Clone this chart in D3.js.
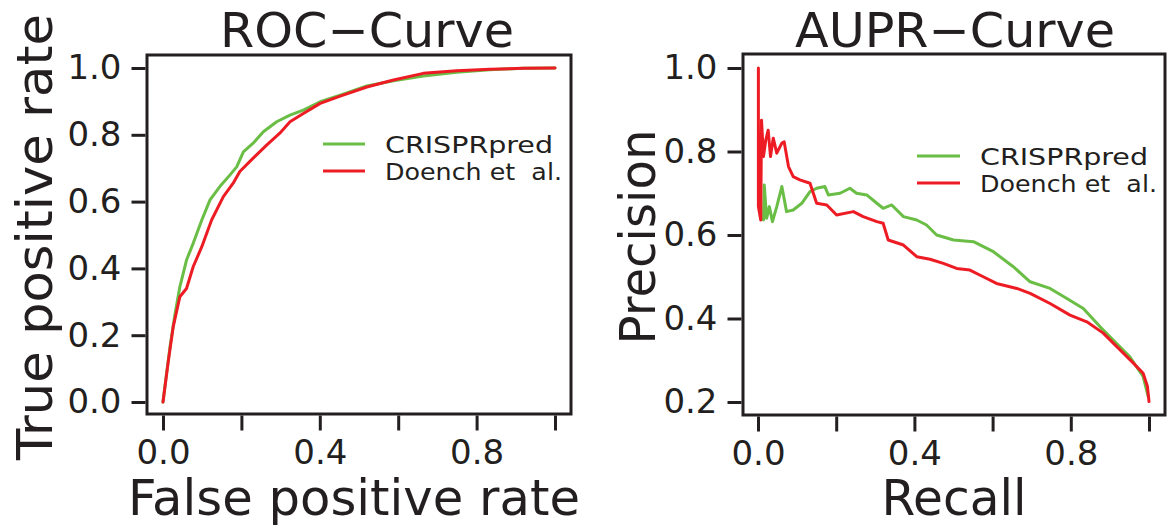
<!DOCTYPE html>
<html>
<head>
<meta charset="utf-8">
<script src="https://cdn.jsdelivr.net/npm/d3@7"></script>
<style>
  html, body { margin: 0; padding: 0; background: #ffffff; }
  svg { display: block; }
  text { font-family: "DejaVu Sans", sans-serif; fill: #231f20; }
</style>
</head>
<body>
<svg id="chart" width="1173" height="527"></svg>
<script>
// ---------------- DATA ----------------
const seriesNames = ["CRISPRpred", "Doench et  al."];
const seriesColors = ["#6abd45", "#ed1c24"];

// ROC curve: [false positive rate, true positive rate]
const rocCRISPRpred = [
  [0,0],[0.008,0.076],[0.018,0.166],[0.031,0.266],[0.043,0.345],[0.060,0.425],
  [0.077,0.475],[0.099,0.545],[0.120,0.605],[0.145,0.645],[0.171,0.680],
  [0.188,0.704],[0.205,0.749],[0.230,0.775],[0.256,0.809],[0.290,0.839],
  [0.324,0.859],[0.358,0.874],[0.401,0.899],[0.452,0.919],[0.520,0.946],
  [0.588,0.962],[0.664,0.976],[0.749,0.987],[0.834,0.995],[0.919,0.999],[1,1]
];
const rocDoench = [
  [0,0],[0.014,0.126],[0.026,0.225],[0.043,0.315],[0.060,0.340],[0.077,0.405],
  [0.099,0.465],[0.124,0.545],[0.154,0.615],[0.179,0.655],[0.196,0.690],
  [0.230,0.730],[0.265,0.770],[0.298,0.805],[0.324,0.839],[0.358,0.864],
  [0.401,0.894],[0.452,0.916],[0.520,0.943],[0.588,0.964],[0.664,0.984],
  [0.749,0.992],[0.834,0.996],[0.919,0.999],[1,1]
];

// Precision-recall curve: [recall, precision]
const prCRISPRpred = [
  [0.014,0.636],[0.016,0.720],[0.022,0.640],[0.029,0.668],[0.037,0.632],
  [0.048,0.668],[0.061,0.716],[0.073,0.656],[0.090,0.660],[0.112,0.676],
  [0.133,0.704],[0.150,0.712],[0.171,0.716],[0.180,0.696],[0.210,0.700],
  [0.235,0.712],[0.252,0.700],[0.278,0.696],[0.304,0.676],[0.320,0.664],
  [0.342,0.672],[0.372,0.644],[0.406,0.636],[0.431,0.624],[0.457,0.600],
  [0.500,0.588],[0.551,0.584],[0.602,0.560],[0.653,0.524],[0.696,0.488],
  [0.747,0.472],[0.790,0.448],[0.832,0.424],[0.875,0.380],[0.909,0.348],
  [0.951,0.308],[0.985,0.261],[0.998,0.213]
];
const prDoench = [
  [0.001,1.0],[0.001,0.668],[0.007,0.636],[0.009,0.875],[0.014,0.788],
  [0.020,0.828],[0.026,0.851],[0.032,0.788],[0.039,0.832],[0.048,0.796],
  [0.061,0.820],[0.067,0.823],[0.078,0.764],[0.090,0.740],[0.107,0.732],
  [0.133,0.724],[0.150,0.676],[0.176,0.672],[0.201,0.648],[0.244,0.656],
  [0.269,0.644],[0.304,0.632],[0.320,0.628],[0.333,0.588],[0.372,0.576],
  [0.406,0.548],[0.440,0.542],[0.474,0.532],[0.508,0.520],[0.542,0.516],
  [0.576,0.500],[0.610,0.484],[0.662,0.472],[0.696,0.460],[0.747,0.436],
  [0.798,0.408],[0.841,0.392],[0.883,0.365],[0.926,0.325],[0.960,0.293],
  [0.985,0.269],[0.996,0.237],[1.0,0.201]
];

const xTicks = [0, 0.2, 0.4, 0.6, 0.8, 1.0];
const xTickLabels = ["0.0", "", "0.4", "", "0.8", ""];
const rocYTicks = [0, 0.2, 0.4, 0.6, 0.8, 1.0];
const prYTicks = [0.2, 0.4, 0.6, 0.8, 1.0];

const panels = [
  {
    title: "ROC\u2212Curve", xLabel: "False positive rate", yLabel: "True positive rate",
    series: [rocCRISPRpred, rocDoench], yDomain: [0, 1], yTicks: rocYTicks,
    xRange: [163, 555], yRange: [402, 68], box: [147, 55, 571, 414],
    titleX: 367, titleW: 294, xLabelX: 354, xLabelW: 452, yLabelX: 52, yLabelW: 446,
    legend: { x1: 323, x2: 365, y: 144, tx: 385, dy: 27, w: [168, 177] }
  },
  {
    title: "AUPR\u2212Curve", xLabel: "Recall", yLabel: "Precision",
    series: [prCRISPRpred, prDoench], yDomain: [0.2, 1], yTicks: prYTicks,
    xRange: [758, 1149], yRange: [402, 68], box: [743, 54, 1165, 415],
    titleX: 955, titleW: 320, xLabelX: 954, xLabelW: 145, yLabelX: 655, yLabelW: 215,
    legend: { x1: 917, x2: 960, y: 156, tx: 980, dy: 27, w: [168, 177] }
  }
];

// ---------------- DRAW ----------------
const svg = d3.select("#chart");
const ink = "#231f20";

panels.forEach(p => {
  const x = d3.scaleLinear().domain([0, 1]).range(p.xRange);
  const y = d3.scaleLinear().domain(p.yDomain).range(p.yRange);
  const [bx0, by0, bx1, by1] = p.box;
  const g = svg.append("g");

  // curves
  const line = d3.line().x(d => x(d[0])).y(d => y(d[1]));
  p.series.forEach((s, i) => {
    g.append("path").datum(s)
      .attr("d", line)
      .attr("fill", "none")
      .attr("stroke", seriesColors[i])
      .attr("stroke-width", 3)
      .attr("stroke-linejoin", "round")
      .attr("stroke-linecap", "round");
  });

  // box
  g.append("rect")
    .attr("x", bx0).attr("y", by0)
    .attr("width", bx1 - bx0).attr("height", by1 - by0)
    .attr("fill", "none").attr("stroke", ink).attr("stroke-width", 3);

  // x axis
  const xAxis = d3.axisBottom(x)
    .tickValues(xTicks)
    .tickSize(15)
    .tickPadding(9)
    .tickFormat((d, i) => xTickLabels[i]);
  const gx = g.append("g").attr("transform", `translate(0,${by1 + 1.5})`).call(xAxis);
  gx.select(".domain").remove();
  gx.selectAll(".tick line").attr("stroke", ink).attr("stroke-width", 3);
  gx.selectAll(".tick text")
    .attr("font-size", 34).attr("font-family", "DejaVu Sans").attr("fill", ink);

  // y axis
  const yAxis = d3.axisLeft(y)
    .tickValues(p.yTicks)
    .tickSize(14)
    .tickPadding(10)
    .tickFormat(d3.format(".1f"));
  const gy = g.append("g").attr("transform", `translate(${bx0 - 1.5},0)`).call(yAxis);
  gy.select(".domain").remove();
  gy.selectAll(".tick line").attr("stroke", ink).attr("stroke-width", 3);
  gy.selectAll(".tick text")
    .attr("font-size", 34).attr("font-family", "DejaVu Sans").attr("fill", ink);

  // title
  g.append("text")
    .attr("x", p.titleX).attr("y", 47)
    .attr("text-anchor", "middle")
    .attr("font-size", 48)
    .attr("textLength", p.titleW).attr("lengthAdjust", "spacingAndGlyphs")
    .text(p.title);

  // x label
  g.append("text")
    .attr("x", p.xLabelX).attr("y", 515)
    .attr("text-anchor", "middle")
    .attr("font-size", 49)
    .attr("textLength", p.xLabelW).attr("lengthAdjust", "spacingAndGlyphs")
    .text(p.xLabel);

  // y label
  g.append("text")
    .attr("transform", `translate(${p.yLabelX},${(p.yRange[0] + p.yRange[1]) / 2 + 2}) rotate(-90)`)
    .attr("text-anchor", "middle")
    .attr("font-size", 50)
    .attr("textLength", p.yLabelW).attr("lengthAdjust", "spacingAndGlyphs")
    .text(p.yLabel);

  // legend
  const L = p.legend;
  seriesNames.forEach((name, i) => {
    const yy = L.y + i * L.dy;
    g.append("line")
      .attr("x1", L.x1).attr("x2", L.x2).attr("y1", yy).attr("y2", yy)
      .attr("stroke", seriesColors[i]).attr("stroke-width", 3);
    g.append("text")
      .attr("x", L.tx).attr("y", yy + 9)
      .attr("font-size", 23)
      .attr("textLength", L.w[i]).attr("lengthAdjust", "spacingAndGlyphs")
      .attr("xml:space", "preserve")
      .style("white-space", "pre")
      .text(name);
  });
});
</script>
</body>
</html>
